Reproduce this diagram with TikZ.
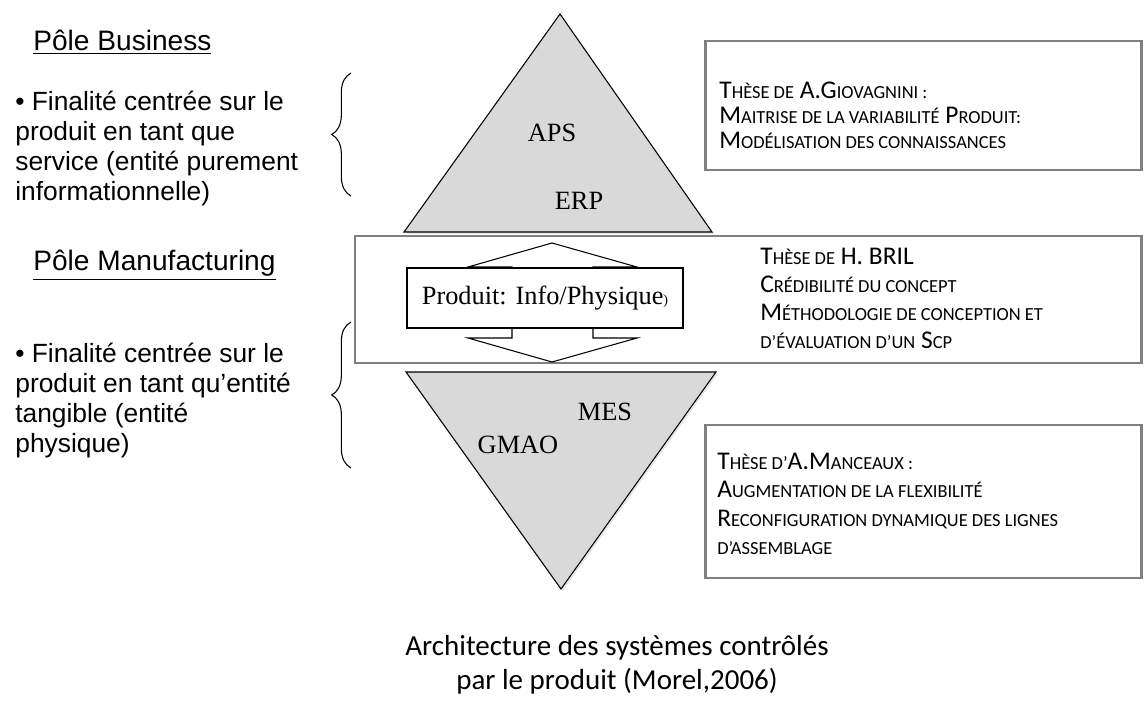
\documentclass[tikz,border=0pt]{standalone}
\usepackage{fontspec}
\setmainfont{Liberation Serif}
\newfontfamily\arialfont{Liberation Sans}
\newfontfamily\calfont{Carlito}
\usetikzlibrary{decorations.pathreplacing}
\usetikzlibrary{shadows}
\newcommand{\smcap}[2]{#1{\fontsize{10.5}{11}\selectfont\MakeUppercase{#2}}}

\begin{document}
\begin{tikzpicture}[x=0.02cm,y=-0.02cm,
    pyramid/.style={draw=black,fill=black!15,line width=0.6pt,
      drop shadow={opacity=0.2,shadow xshift=1pt,shadow yshift=-1pt}},
    thesebox/.style={draw=black!50,line width=1.7pt},
    thesetext/.style={anchor=base west,inner sep=0pt,
      font=\calfont\fontsize{14.5}{16}\selectfont},
    pole/.style={anchor=base west,inner sep=0pt,
      font=\arialfont\fontsize{16}{18}\selectfont},
    finalite/.style={anchor=north west,align=left,inner sep=0pt,
      font=\arialfont\fontsize{15}{17}\selectfont},
    sysname/.style={inner sep=0pt,font=\fontsize{15}{17}\selectfont},
    accolade/.style={draw,line width=0.6pt,decorate,
      decoration={brace,amplitude=11pt}}]
  \useasboundingbox (0,0) rectangle (1146,716);

  % pyramide business
  \coordinate (bTop) at (560,14);
  \coordinate (bLeft) at (404,232);
  \coordinate (bRight) at (712,232);
  \filldraw[pyramid] (bTop) -- (bRight) -- (bLeft) -- cycle;
  \node[sysname] (aps) at (552,133) {APS};
  \node[sysname] (erp) at (579,201) {ERP};

  % pyramide manufacturing
  \coordinate (mBot) at (561,589);
  \coordinate (mLeft) at (406,372);
  \coordinate (mRight) at (716,372);
  \filldraw[pyramid] (mLeft) -- (mRight) -- (mBot) -- cycle;
  \node[sysname] (mes) at (605,412) {MES};
  \node[sysname] (gmao) at (518,445) {GMAO};

  % cadres des theses
  \coordinate (c1a) at (705,41);
  \coordinate (c1b) at (1141,170);
  \draw[thesebox] (c1a) rectangle (c1b);
  \coordinate (c2a) at (355,236);
  \coordinate (c2b) at (1141,363);
  \draw[thesebox] (c2a) rectangle (c2b);
  \coordinate (c3a) at (705,425);
  \coordinate (c3b) at (1141,578);
  \draw[thesebox] (c3a) rectangle (c3b);

  \foreach \ligne [count=\i] in {%
      {\smcap{T}{hèse de} \smcap{A.G}{iovagnini :}},
      {\smcap{M}{aitrise de la variabilité} \smcap{P}{roduit:}},
      {\smcap{M}{odélisation des connaissances}}}
    \node[thesetext] (giova\i) at ({719},{99+(\i-1)*25}) {\ligne};
  \foreach \ligne [count=\i] in {%
      {\smcap{T}{hèse de} H. BRIL},
      {\smcap{C}{rédibilité du concept}},
      {\smcap{M}{éthodologie de conception et}},
      {\smcap{}{d’évaluation d’un} \smcap{S}{cp}}}
    \node[thesetext] (bril\i) at ({760},{265+(\i-1)*27.7}) {\ligne};
  \foreach \ligne [count=\i] in {%
      {\smcap{T}{hèse d’}\smcap{A.M}{anceaux :}},
      {\smcap{A}{ugmentation de la flexibilité}},
      {\smcap{R}{econfiguration dynamique des lignes}},
      {\smcap{}{d’assemblage}}}
    \node[thesetext] (mancx\i) at ({717},{469+(\i-1)*28.6}) {\ligne};

  % double fleche produit
  \coordinate (fUp) at (552,243);
  \coordinate (fDown) at (552,362);
  \filldraw[fill=white,draw=black,line width=0.6pt]
    (fUp) -- (637,267) -- (593,267) -- (593,338) -- (637,338) -- (fDown)
    -- (468,338) -- (512,338) -- (512,267) -- (468,267) -- cycle;
  \node[draw,fill=white,line width=0.6pt,minimum width=276*0.02cm,
    minimum height=60*0.02cm,inner sep=0pt,font=\fontsize{15}{17}\selectfont]
    (produit) at (545,298) {Produit: Info/Physique{\fontsize{8}{9}\selectfont)}};

  % poles
  \node[pole] (business) at (33,51) {\underline{Pôle Business}};
  \node[finalite] (fin1) at (15,91) {%
    • Finalité centrée sur le\\
    produit en tant que\\
    service (entité purement\\
    informationnelle)};
  \node[pole] (manuf) at (33,271) {\underline{Pôle Manufacturing}};
  \node[finalite] (fin2) at (15,343) {%
    • Finalité centrée sur le\\
    produit en tant qu’entité\\
    tangible (entité\\
    physique)};

  \coordinate (acc1a) at (351,196);
  \coordinate (acc1b) at (351,73);
  \draw[accolade] (acc1a) -- (acc1b);
  \coordinate (acc2a) at (351,468);
  \coordinate (acc2b) at (351,322);
  \draw[accolade] (acc2a) -- (acc2b);

  % legende
  \node[align=center,inner sep=0pt,font=\calfont\fontsize{16.5}{19.5}\selectfont]
    (legende) at (617,665) {Architecture des systèmes contrôlés\\
    par le produit (Morel,2006)};
\end{tikzpicture}
\end{document}
